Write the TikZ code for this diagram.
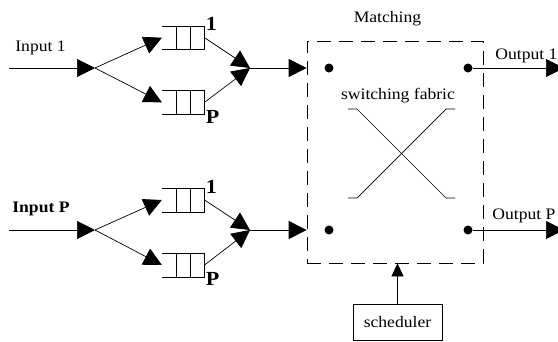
\documentclass[tikz,border=0pt]{standalone}
\usepackage{fontspec}
\setmainfont[FakeStretch=1.1]{Liberation Serif}
\usetikzlibrary{arrows.meta,calc}
\begin{document}
\begin{tikzpicture}[x=1pt,y=-1pt,
  line width=0.7pt,
  txt/.style={font=\fontsize{16}{18}\selectfont, inner sep=0pt},
  lbl/.style={font=\fontsize{20}{22}\selectfont\bfseries, inner sep=0pt},
  big/.style={-{Triangle[length=18pt,width=18pt]}},
  small/.style={-{Triangle[length=13pt,width=12pt]}},
  queue/.style={minimum width=42pt, minimum height=23pt, inner sep=0pt},
  dot/.style={circle, fill, minimum size=9pt, inner sep=0pt},
  fabric/.style={draw, dash pattern=on 14pt off 8pt, minimum width=176pt, minimum height=222pt, inner sep=0pt},
  sbox/.style={draw, minimum width=89pt, minimum height=36pt, inner sep=0pt, font=\fontsize{16}{18}\selectfont}]
\useasboundingbox (0,0) rectangle (558,341);

% queues
\node[queue] (q11) at (183.2,37.7) {};
\node[queue] (q1p) at (183.2,102.3) {};
\node[queue] (qp1) at (183.2,200) {};
\node[queue] (qpp) at (183.2,265) {};
\foreach \q in {q11,q1p,qp1,qpp} {
  \draw (\q.north west) -- (\q.north east) -- (\q.south east) -- (\q.south west);
  \draw ($(\q.north west)!1/3!(\q.north east)$) -- ($(\q.south west)!1/3!(\q.south east)$);
  \draw ($(\q.north west)!2/3!(\q.north east)$) -- ($(\q.south west)!2/3!(\q.south east)$);
}
\node[lbl, anchor=base west] (l11) at ([shift={(1,5)}]q11.north east) {1};
\node[lbl, anchor=base west] (l1p) at ([shift={(1,9)}]q1p.south east) {P};
\node[lbl, anchor=base west] (lp1) at ([shift={(1,5)}]qp1.north east) {1};
\node[lbl, anchor=base west] (lpp) at ([shift={(1,9)}]qpp.south east) {P};

% coordinates
\coordinate (s1) at (9,68);
\coordinate (b1) at (95,68);
\coordinate (m1) at (250,68);
\coordinate (sp) at (9,230);
\coordinate (bp) at (95,230);
\coordinate (mp) at (250,230);

% switching fabric
\node[fabric] (sw) at (395,152) {};
\node[dot] (i1) at (329,68) {};
\node[dot] (o1) at (468,68) {};
\node[dot] (ip) at (329,230) {};
\node[dot] (op) at (468,230) {};
\draw (348,109) -- (357,109) -- (446,198) -- (455,198);
\draw (455,109) -- (446,109) -- (357,198) -- (348,198);

% texts
\node[txt, anchor=base west] (tin1) at (15,51.7) {Input 1};
\node[txt, anchor=base west, font=\fontsize{16}{18}\selectfont\bfseries] (tinp) at (12,212.7) {Input P};
\node[txt, anchor=base] (tmatch) at (387.5,22.3) {Matching};
\node[txt, anchor=base] (tfab) at (398,99.3) {switching fabric};
\node[txt, anchor=base west] (tout1) at (495,59.3) {Output 1};
\node[txt, anchor=base west] (toutp) at (492,219) {Output P};
\coordinate (e1) at (564,68);
\coordinate (ep) at (564,230);

% connectors
\draw[big] (s1) -- (b1);
\draw[big] (b1) -- (q11.west);
\draw[big] (b1) -- (q1p.west);
\draw[big] (q11.east) -- (m1);
\draw[big] (q1p.east) -- (m1);
\draw[big] (m1) -- (m1 -| sw.west);

\draw[big] (sp) -- (bp);
\draw[big] (bp) -- (qp1.west);
\draw[big] (bp) -- (qpp.west);
\draw[big] (qp1.east) -- (mp);
\draw[big] (qpp.east) -- (mp);
\draw[big] (mp) -- (mp -| sw.west);

\draw[big] (o1) -- (e1);
\draw[big] (op) -- (ep);

% scheduler
\node[sbox] (sch) at (397.5,322) {scheduler};
\draw[small] (sch.north) -- (sch.north |- sw.south);
\end{tikzpicture}
\end{document}
